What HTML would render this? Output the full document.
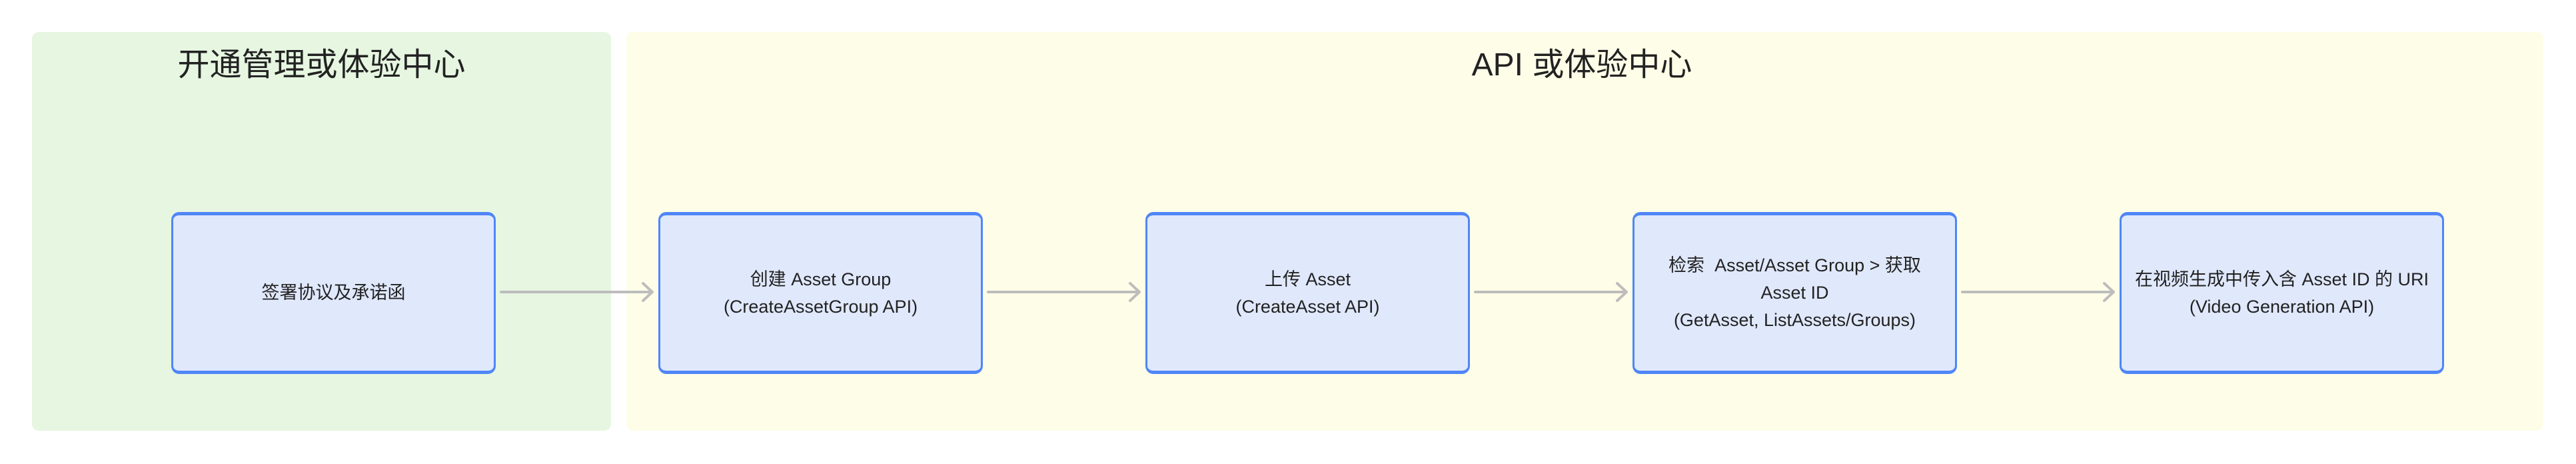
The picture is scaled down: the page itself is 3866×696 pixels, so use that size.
<!DOCTYPE html>
<html><head><meta charset="utf-8"><style>
body{margin:0;width:3866px;height:696px;background:#fff;position:relative;overflow:hidden;font-family:"Liberation Sans","Noto Sans CJK SC",sans-serif;color:#222}
.p{position:absolute;top:48px;height:598px;border-radius:10px}
.t{position:absolute;top:66px;font-size:48px;text-align:center;line-height:64px}
.n{position:absolute;top:318px;width:481px;height:233px;border:3px solid #4f86f7;border-top-width:5px;border-bottom-width:5px;border-radius:12px;background:#e0e8fc;display:flex;align-items:center;justify-content:center;text-align:center;font-size:27px;line-height:41px}
svg{position:absolute;left:0;top:0}
</style></head><body>
<div class="p" style="left:48px;width:869px;background:#e6f6e1"></div>
<div class="p" style="left:940px;width:2877px;background:#fefee8"></div>
<div class="t" style="left:48px;width:869px">开通管理或体验中心</div>
<div class="t" style="left:940px;width:2868px">API 或体验中心</div>
<div class="n" style="left:257px">签署协议及承诺函</div>
<div class="n" style="left:988px">创建 Asset Group<br>(CreateAssetGroup API)</div>
<div class="n" style="left:1719px">上传 Asset<br>(CreateAsset API)</div>
<div class="n" style="left:2450px">检索&nbsp; Asset/Asset Group &gt; 获取<br>Asset ID<br>(GetAsset, ListAssets/Groups)</div>
<div class="n" style="left:3181px">在视频生成中传入含 Asset ID 的 URI<br>(Video Generation API)</div>
<svg width="3866" height="696"><g stroke="#bdbdbd" stroke-width="4" fill="none" stroke-linecap="round" stroke-linejoin="round">
<path d="M752 438H977M965 425L979 438L965 451"/>
<path d="M1483 438H1708M1696 425L1710 438L1696 451"/>
<path d="M2214 438H2439M2427 425L2441 438L2427 451"/>
<path d="M2945 438H3170M3158 425L3172 438L3158 451"/>
</g></svg>
</body></html>
